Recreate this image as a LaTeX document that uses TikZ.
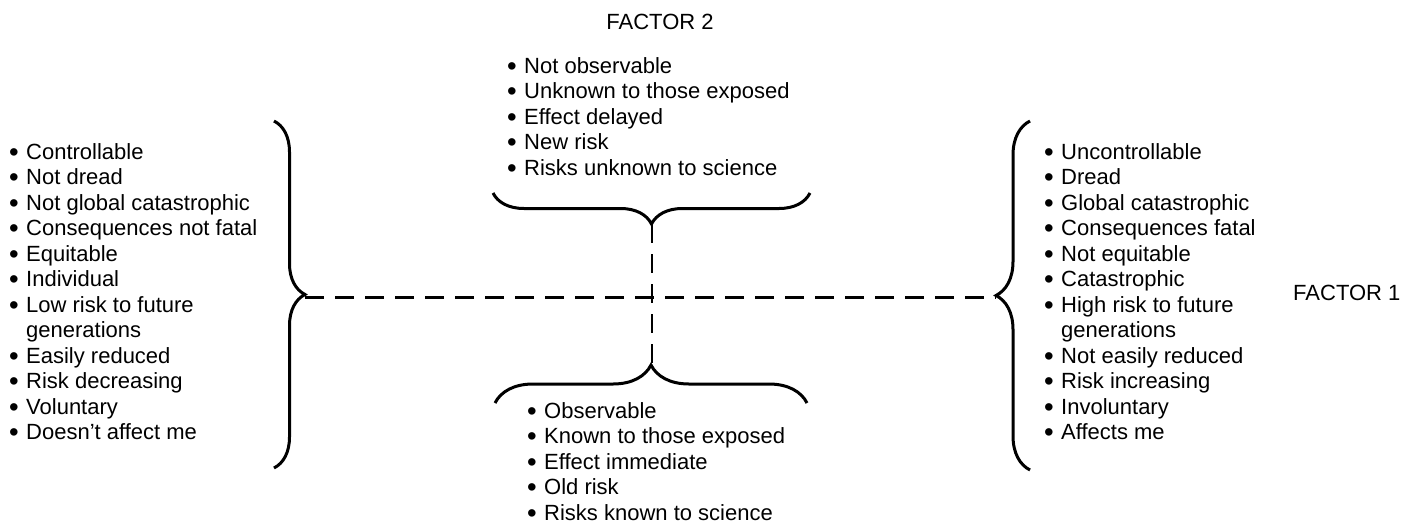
\documentclass[tikz,border=0pt]{standalone}
\usepackage{fontspec}
\usepackage{graphicx}
\setmainfont{Liberation Sans}
\usetikzlibrary{decorations.pathreplacing}
\newcommand{\bul}{\makebox[17pt][l]{\raisebox{-2pt}{\scalebox{1.25}{\textbullet}}}}
\newcommand{\ind}{\hspace*{17pt}}
\begin{document}
\begin{tikzpicture}[
  x = 1pt, y = -1pt,
  every node/.style = {inner sep = 0pt, font = \fontsize{22}{25.5}\selectfont},
  itemlist/.style = {anchor = base west, align = left},
  factor/.style = {anchor = base},
  bracket/.style = {line width = 3pt, decorate, decoration = {brace, amplitude = #1, aspect = 0.5}},
  axis/.style = {line width = 2.8pt, dash pattern = on 19pt off 11pt},
  ]
  \useasboundingbox (0,0) rectangle (1416,528);
  \node[factor] (factor2) at (660,29) {FACTOR 2};
  \node[factor, anchor = base west] (factor1) at (1293,300) {FACTOR 1};
  \node[itemlist] (leftlist) at (9,439.5) {\bul Controllable\\
        \bul Not dread\\
        \bul Not global catastrophic\\
        \bul Consequences not fatal\\
        \bul Equitable\\
        \bul Individual\\
        \bul Low risk to future\\
        \ind generations\\
        \bul Easily reduced\\
        \bul Risk decreasing\\
        \bul Voluntary\\
        \bul Doesn't affect me};
  \node[itemlist] (rightlist) at (1044,439.5) {\bul Uncontrollable\\
        \bul Dread\\
        \bul Global catastrophic\\
        \bul Consequences fatal\\
        \bul Not equitable\\
        \bul Catastrophic\\
        \bul High risk to future\\
        \ind generations\\
        \bul Not easily reduced\\
        \bul Risk increasing\\
        \bul Involuntary\\
        \bul Affects me};
  \node[itemlist] (toplist) at (507,175) {\bul Not observable\\
        \bul Unknown to those exposed\\
        \bul Effect delayed\\
        \bul New risk\\
        \bul Risks unknown to science};
  \node[itemlist] (botlist) at (527,520) {\bul Observable\\
        \bul Known to those exposed\\
        \bul Effect immediate\\
        \bul Old risk\\
        \bul Risks known to science};
  \draw[bracket = 31pt] (274,121) -- (274,468);
  \draw[bracket = 34pt] (1030,470) -- (1030,121);
  \draw[bracket = 31pt] (810,193) -- (493,193);
  \draw[bracket = 38pt] (495,403) -- (807,403);
  \coordinate (lefttip) at (305,297.5);
  \coordinate (righttip) at (996,297.5);
  \coordinate (toptip) at (652,224);
  \coordinate (bottip) at (652,365);
  \draw[axis] (lefttip) -- (righttip);
  \draw[axis] (toptip) -- (bottip);
\end{tikzpicture}
\end{document}
